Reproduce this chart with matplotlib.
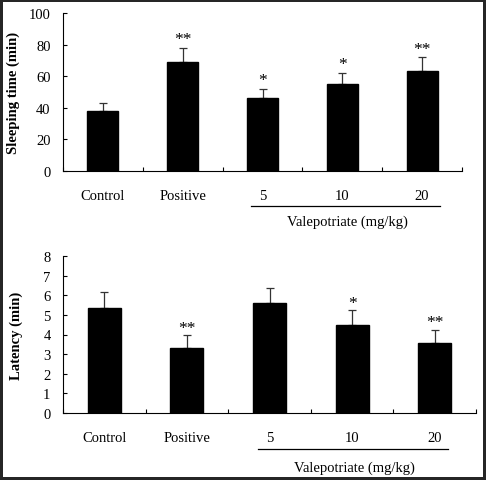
import numpy as np
import matplotlib.pyplot as plt
from matplotlib.patches import Rectangle
import matplotlib.transforms as mtransforms

plt.rcParams['font.family'] = ['Liberation Serif', 'DejaVu Serif']

# Data
groups = ['Control', 'Positive', '5', '10', '20']
sleep_mean = [38, 69, 46, 55, 63]
sleep_err = [5, 9, 6, 7, 9]
sleep_sig = ['', '**', '*', '*', '**']
lat_mean = [5.35, 3.3, 5.6, 4.5, 3.55]
lat_err = [0.8, 0.65, 0.75, 0.75, 0.7]
lat_sig = ['', '**', '', '*', '**']

fig = plt.figure(figsize=(4.86, 4.81), dpi=100, facecolor='#262626')
# white panel inside a dark frame
fig.patches.append(Rectangle((3 / 486, 3 / 481), 480 / 486, 475 / 481,
                             transform=fig.transFigure, facecolor='white',
                             edgecolor='none', zorder=-1))


def panel(rect, means, errs, sig, ymax, ystep, ylabel, width, label_x,
          line_y, text_y, line_x, text_x, star_off):
    ax = fig.add_axes(rect)
    ax.set_facecolor('white')
    x = np.arange(len(groups))
    ax.bar(x, means, width=width, color='black', edgecolor='black', zorder=2)
    ax.errorbar(x, means, yerr=[np.zeros(len(errs)), errs], fmt='none',
                ecolor='#333333', elinewidth=0.9, capsize=3.2, capthick=0.9,
                zorder=1)
    for xi, m, e, s in zip(x, means, errs, sig):
        if s:
            ax.annotate(s, (xi, m + e), xytext=(0, star_off),
                        textcoords='offset points', ha='center', va='bottom',
                        fontsize=12.5)
    ax.set_xlim(-0.5, len(groups) - 0.5)
    ax.set_ylim(0, ymax)
    ax.set_yticks(np.arange(0, ymax + ystep / 2, ystep))
    ax.set_xticks(x)
    ax.set_xticklabels(groups)
    ax.set_xticks(np.arange(-0.5, len(groups)), minor=True)
    ax.tick_params(axis='x', which='major', length=0, pad=13, labelsize=10.5)
    ax.tick_params(axis='x', which='minor', direction='in', length=3,
                   width=0.8)
    ax.tick_params(axis='y', direction='in', length=3, width=0.8, pad=9,
                   labelsize=10.5)
    for side in ['top', 'right']:
        ax.spines[side].set_visible(False)
    for side in ['left', 'bottom']:
        ax.spines[side].set_linewidth(0.8)
    ax.set_ylabel(ylabel, fontsize=10.5, fontweight='bold')
    ax.yaxis.set_label_coords(label_x, 0.5)
    trans = mtransforms.blended_transform_factory(ax.transData, ax.transAxes)
    ax.plot(line_x, [line_y, line_y], color='black', lw=0.9,
            transform=trans, clip_on=False)
    ax.text(text_x, text_y, 'Valepotriate (mg/kg)', transform=trans,
            ha='center', va='center', fontsize=10.5)
    return ax


panel([63 / 486, 1 - 172 / 481, 399 / 486, 158 / 481],
      sleep_mean, sleep_err, sleep_sig, 100, 20, 'Sleeping time (min)',
      0.39, -0.108, -0.2215, -0.316, [1.86, 4.225], 3.06, 0.5)

panel([63 / 486, 1 - 414 / 481, 413 / 486, 157 / 481],
      lat_mean, lat_err, lat_sig, 8, 1, 'Latency (min)',
      0.40, -0.097, -0.229, -0.344, [1.86, 4.16], 3.03, -0.5)

fig.savefig('out.png', dpi=100, facecolor=fig.get_facecolor())
